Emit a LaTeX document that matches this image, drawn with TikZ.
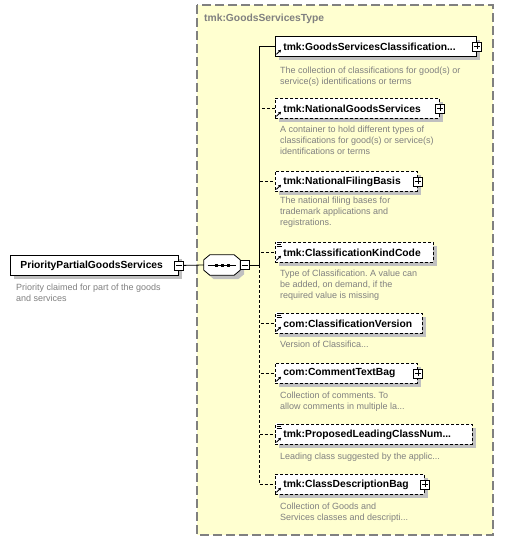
\documentclass[tikz,border=0pt]{standalone}
\usepackage{fontspec}
\setmainfont{Liberation Sans}
\usepackage{tikz}
\usetikzlibrary{arrows.meta,positioning,shadows}
\definecolor{typebg}{RGB}{255,255,208}
\definecolor{typeline}{RGB}{128,128,128}
\definecolor{descgray}{RGB}{128,128,128}
\definecolor{shadowgray}{RGB}{192,192,192}
\frenchspacing

\begin{document}
\begin{tikzpicture}[x=1pt,y=-1pt,
  elem/.style={draw,fill=white,anchor=north west,minimum height=20pt,
    inner xsep=8pt,inner ysep=0pt,align=left,line width=0.8pt,
    font=\fontsize{10.3}{12}\selectfont\bfseries,
    general shadow={fill=shadowgray,shadow xshift=4pt,shadow yshift=-4pt}},
  optelem/.style={elem,dash pattern=on 3pt off 2pt},
  desc/.style={anchor=north west,inner sep=0pt,align=left,text=descgray,
    font=\fontsize{9}{11}\selectfont},
  expand/.style={draw,fill=white,minimum size=9pt,inner sep=0pt,line width=0.6pt,
    path picture={\draw[line width=0.6pt]
      ([xshift=1.5pt]path picture bounding box.west) -- ([xshift=-1.5pt]path picture bounding box.east)
      ([yshift=-1.5pt]path picture bounding box.north) -- ([yshift=1.5pt]path picture bounding box.south);}},
  collapse/.style={draw,fill=white,minimum size=9pt,inner sep=0pt,line width=0.6pt,
    path picture={\draw[line width=0.6pt]
      ([xshift=1.5pt]path picture bounding box.west) -- ([xshift=-1.5pt]path picture bounding box.east);}},
  conn/.style={line width=0.8pt},
  optconn/.style={conn,dash pattern=on 3pt off 2pt},
  refmark/.style={line width=0.9pt,-{Triangle[length=2.5pt,width=3pt]}}]
  \fill[white] (0,0) rectangle (504,540);
  \useasboundingbox (0,0) rectangle (504,540);
  % complex type frame
  \draw[fill=typebg,draw=typeline,line width=1.2pt,dash pattern=on 9pt off 4pt]
    (197,5) rectangle (493,535);
  \node[anchor=base west,inner sep=0pt,text=typeline,
    font=\fontsize{10.3}{12}\selectfont\bfseries] (typename) at (204,22) {tmk:GoodsServicesType};

  % root element and sequence
  \node[elem,inner xsep=10pt,text width=148pt] (main) at (10,255) {PriorityPartialGoodsServices};
  \node[desc] (maindesc) at (16,283.5) {Priority claimed for part of the goods\\and services};
  \node[collapse] (mainm) at (main.east) {};
  \node[minimum width=36pt,minimum height=20pt,inner sep=0pt] (seq) at (222,265) {};
  \draw[fill=white,line width=0.8pt,
    general shadow={fill=shadowgray,shadow xshift=4pt,shadow yshift=-4pt}]
    ([xshift=6pt]seq.north west) -- ([xshift=-6pt]seq.north east)
    -- ([yshift=-5pt]seq.north east) -- ([yshift=5pt]seq.south east)
    -- ([xshift=-6pt]seq.south east) -- ([xshift=6pt]seq.south west)
    -- ([yshift=5pt]seq.south west) -- ([yshift=-5pt]seq.north west) -- cycle;
  \node[collapse,anchor=west] (seqm) at (seq.east) {};
  \draw[line width=0.8pt] ([xshift=4pt]seq.west) -- ([xshift=-4pt]seq.east);
  \foreach \dx in {-6,0,6}
    \fill ([xshift=\dx pt]seq.center) +(-1.5pt,-1.5pt) rectangle +(1.5pt,1.5pt);

  % children
  \node[elem,text width=185pt] (c1) at (275,36) {tmk:GoodsServicesClassification...};
  \node[desc] (d1) at (280,66.5) {The collection of classifications for good(s) or\\service(s) identifications or terms};
  \node[optelem,text width=148pt] (c2) at (275,98) {tmk:NationalGoodsServices};
  \node[desc] (d2) at (280,125.5) {A container to hold different types of\\classifications for good(s) or service(s)\\identifications or terms};
  \node[optelem,text width=126pt] (c3) at (275,171) {tmk:NationalFilingBasis};
  \node[desc] (d3) at (280,196.5) {The national filing bases for\\trademark applications and\\registrations.};
  \node[optelem,text width=142pt] (c4) at (275,242) {tmk:ClassificationKindCode};
  \node[desc] (d4) at (280,269.5) {Type of Classification. A value can\\be added, on demand, if the\\required value is missing};
  \node[optelem,text width=131pt] (c5) at (275,313) {com:ClassificationVersion};
  \node[desc] (d5) at (280,340.5) {Version of Classifica...};
  \node[optelem,text width=126pt] (c6) at (275,363) {com:CommentTextBag};
  \node[desc] (d6) at (280,391.5) {Collection of comments. To\\allow comments in multiple la...};
  \node[optelem,text width=181pt] (c7) at (275,424) {tmk:ProposedLeadingClassNum...};
  \node[desc] (d7) at (280,452.5) {Leading class suggested by the applic...};
  \node[optelem,text width=133pt] (c8) at (275,474) {tmk:ClassDescriptionBag};
  \node[desc] (d8) at (280,502.5) {Collection of Goods and\\Services classes and descripti...};

  \foreach \i in {1,2,3,6,8}
    \node[expand] (e\i) at (c\i.east) {};

  % connectors
  \coordinate (junc) at (259,265);
  \draw[conn] (mainm.east) -- (seq.west);
  \draw[conn] (seqm.east) -- (junc);
  \draw[conn] (junc) |- (c1.west);
  \foreach \i in {2,...,8}
    \draw[optconn] (junc) |- (c\i.west);

  % reference and simple type marks
  \foreach \i in {1,...,8}
    \draw[refmark] ([xshift=1.5pt,yshift=2.5pt]c\i.south west) -- ++(4.5pt,4.5pt);
  \foreach \n in {c4,c5,c7} {
    \fill[white] ([xshift=1pt,yshift=1pt]\n.north west) rectangle ++(6pt,-6pt);
    \draw[line width=0.8pt] ([xshift=1.5pt,yshift=-0.5pt]\n.north west) -- ++(5pt,0pt)
      ([xshift=1.5pt,yshift=-2.5pt]\n.north west) -- ++(4pt,0pt)
      ([xshift=1.5pt,yshift=-4.5pt]\n.north west) -- ++(5pt,0pt);
  }
\end{tikzpicture}
\end{document}
